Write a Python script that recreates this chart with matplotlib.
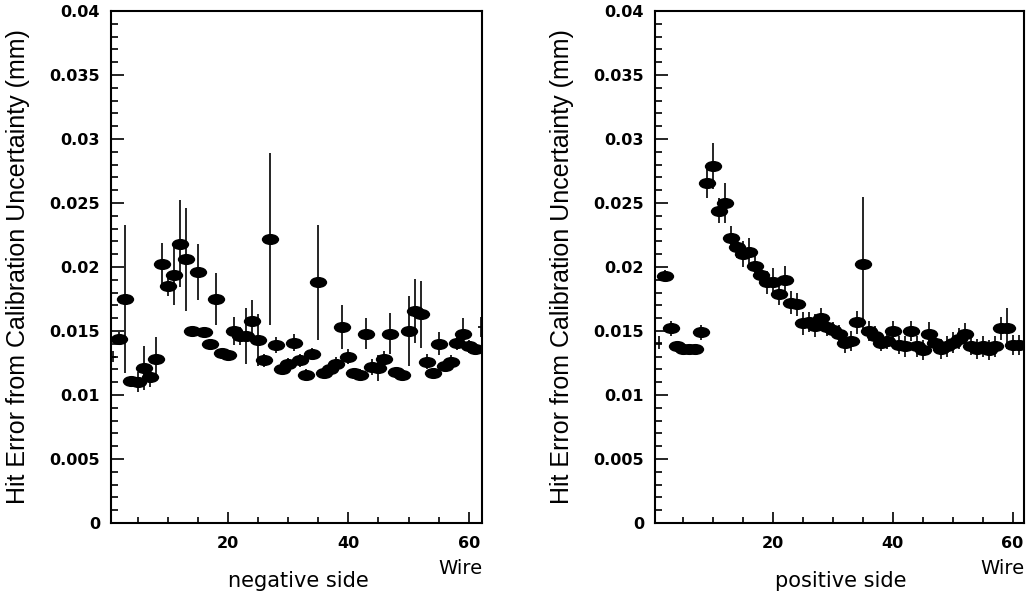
import numpy as np
import matplotlib
matplotlib.use("Agg")
import matplotlib.pyplot as plt
from matplotlib.path import Path
from matplotlib.ticker import MultipleLocator, FuncFormatter

# wire numbers
wires_neg = list(range(1, 63))
wires_pos = list(range(1, 62))

# negative side: hit error and its uncertainty (mm)
neg_val = [0.0130, 0.0144, 0.0175, 0.0111, 0.0110, 0.0121, 0.0114, 0.0128, 0.0202, 0.0185,
           0.0194, 0.0218, 0.0206, 0.0150, 0.0196, 0.0149, 0.0140, 0.0175, 0.0133, 0.0131,
           0.0150, 0.0146, 0.0146, 0.0158, 0.0143, 0.0127, 0.0222, 0.0139, 0.0120, 0.0124,
           0.0141, 0.0127, 0.0116, 0.0132, 0.0188, 0.0117, 0.0120, 0.0124, 0.0153, 0.0130,
           0.0117, 0.0116, 0.0148, 0.0122, 0.0121, 0.0128, 0.0148, 0.0118, 0.0116, 0.0150,
           0.0166, 0.0163, 0.0126, 0.0117, 0.0140, 0.0123, 0.0126, 0.0141, 0.0148, 0.0138,
           0.0136, 0.0153]
neg_err = [0.0004, 0.0005, 0.0058, 0.0004, 0.0008, 0.0017, 0.0008, 0.0017, 0.0017, 0.0008,
           0.0024, 0.0034, 0.0040, 0.0003, 0.0022, 0.0003, 0.0004, 0.0020, 0.0004, 0.0004,
           0.0011, 0.0007, 0.0022, 0.0016, 0.0020, 0.0005, 0.0067, 0.0006, 0.0004, 0.0005,
           0.0007, 0.0005, 0.0004, 0.0005, 0.0045, 0.0004, 0.0004, 0.0006, 0.0017, 0.0006,
           0.0004, 0.0004, 0.0012, 0.0006, 0.0010, 0.0006, 0.0016, 0.0004, 0.0004, 0.0027,
           0.0025, 0.0026, 0.0006, 0.0004, 0.0009, 0.0004, 0.0005, 0.0006, 0.0012, 0.0005,
           0.0005, 0.0008]

# positive side
pos_val = [0.0141, 0.0193, 0.0152, 0.0138, 0.0136, 0.0136, 0.0136, 0.0149, 0.0266, 0.0279,
           0.0244, 0.0250, 0.0223, 0.0216, 0.0210, 0.0212, 0.0201, 0.0194, 0.0188, 0.0188,
           0.0179, 0.0190, 0.0172, 0.0171, 0.0156, 0.0157, 0.0154, 0.0160, 0.0153, 0.0151,
           0.0148, 0.0141, 0.0142, 0.0157, 0.0202, 0.0150, 0.0146, 0.0141, 0.0142, 0.0150,
           0.0139, 0.0138, 0.0150, 0.0138, 0.0135, 0.0148, 0.0141, 0.0136, 0.0138, 0.0141,
           0.0144, 0.0148, 0.0138, 0.0136, 0.0138, 0.0135, 0.0138, 0.0152, 0.0152, 0.0139,
           0.0139]
pos_err = [0.0005, 0.0005, 0.0006, 0.0004, 0.0003, 0.0003, 0.0003, 0.0006, 0.0012, 0.0018,
           0.0010, 0.0016, 0.0009, 0.0009, 0.0010, 0.0011, 0.0008, 0.0007, 0.0009, 0.0011,
           0.0009, 0.0011, 0.0009, 0.0009, 0.0009, 0.0008, 0.0009, 0.0008, 0.0007, 0.0006,
           0.0007, 0.0008, 0.0008, 0.0009, 0.0053, 0.0008, 0.0008, 0.0007, 0.0006, 0.0008,
           0.0007, 0.0008, 0.0008, 0.0008, 0.0008, 0.0009, 0.0007, 0.0008, 0.0008, 0.0008,
           0.0008, 0.0008, 0.0007, 0.0008, 0.0008, 0.0008, 0.0008, 0.0009, 0.0016, 0.0008,
           0.0008]

ylabel = "Hit Error from Calibration Uncertainty (mm)"

# ellipse marker like the ROOT full circle
circ = Path.unit_circle()
ellipse = Path(circ.vertices * np.array([1.0, 0.64]), circ.codes)

fig = plt.figure(figsize=(10.31, 5.96), dpi=100)
W, H = 1031, 596


def yfmt(v, pos):
    if abs(v) < 1e-9:
        return "0"
    return ("%.3f" % v).rstrip("0")


def panel(x0, x1, wires, vals, errs, side, xlo, xhi, label_x):
    ax = fig.add_axes([x0 / W, (H - 523) / H, (x1 - x0) / W, (523 - 11) / H])
    w = np.array(wires)
    v = np.array(vals)
    e = np.array(errs)
    ax.errorbar(w, v, yerr=e, xerr=0.5, fmt="none", ecolor="black", elinewidth=1.2, capsize=0)
    inside = (w > 1) & (w < 62)
    ax.plot(w[inside], v[inside], linestyle="none", marker=ellipse, markersize=12.5,
            color="black", markeredgewidth=0)
    ax.set_xlim(xlo, xhi)
    ax.set_ylim(0, 0.04)
    ax.xaxis.set_major_locator(MultipleLocator(20))
    ax.xaxis.set_minor_locator(MultipleLocator(5))
    ax.yaxis.set_major_locator(MultipleLocator(0.005))
    ax.yaxis.set_minor_locator(MultipleLocator(0.001))
    ax.yaxis.set_major_formatter(FuncFormatter(yfmt))
    ax.tick_params(which="both", direction="in", top=False, right=False, width=1.2)
    ax.tick_params(which="major", axis="y", length=9.5, pad=8, labelsize=11.5)
    ax.tick_params(which="minor", axis="y", length=5)
    ax.tick_params(which="major", axis="x", length=8, pad=9, labelsize=11.5)
    ax.tick_params(which="minor", axis="x", length=4.5)
    for lab in ax.get_xticklabels() + ax.get_yticklabels():
        lab.set_fontweight("semibold")
    for s in ax.spines.values():
        s.set_linewidth(1.5)
    ax.set_ylabel(ylabel, fontsize=18, family="Liberation Sans")
    ax.yaxis.set_label_coords((label_x - x0) / (x1 - x0), 0.5)
    ax.text(1.0, -0.088, "Wire", transform=ax.transAxes, ha="right", va="center", fontsize=14)
    ax.text(0.504, -0.113, side, transform=ax.transAxes, ha="center", va="center", fontsize=15)
    return ax


panel(111, 482, wires_neg, neg_val, neg_err, "negative side", 0.6, 62.2, 30)
panel(655, 1024, wires_pos, pos_val, pos_err, "positive side", 0.4, 61.9, 574)

fig.savefig("out.png", dpi=100)
